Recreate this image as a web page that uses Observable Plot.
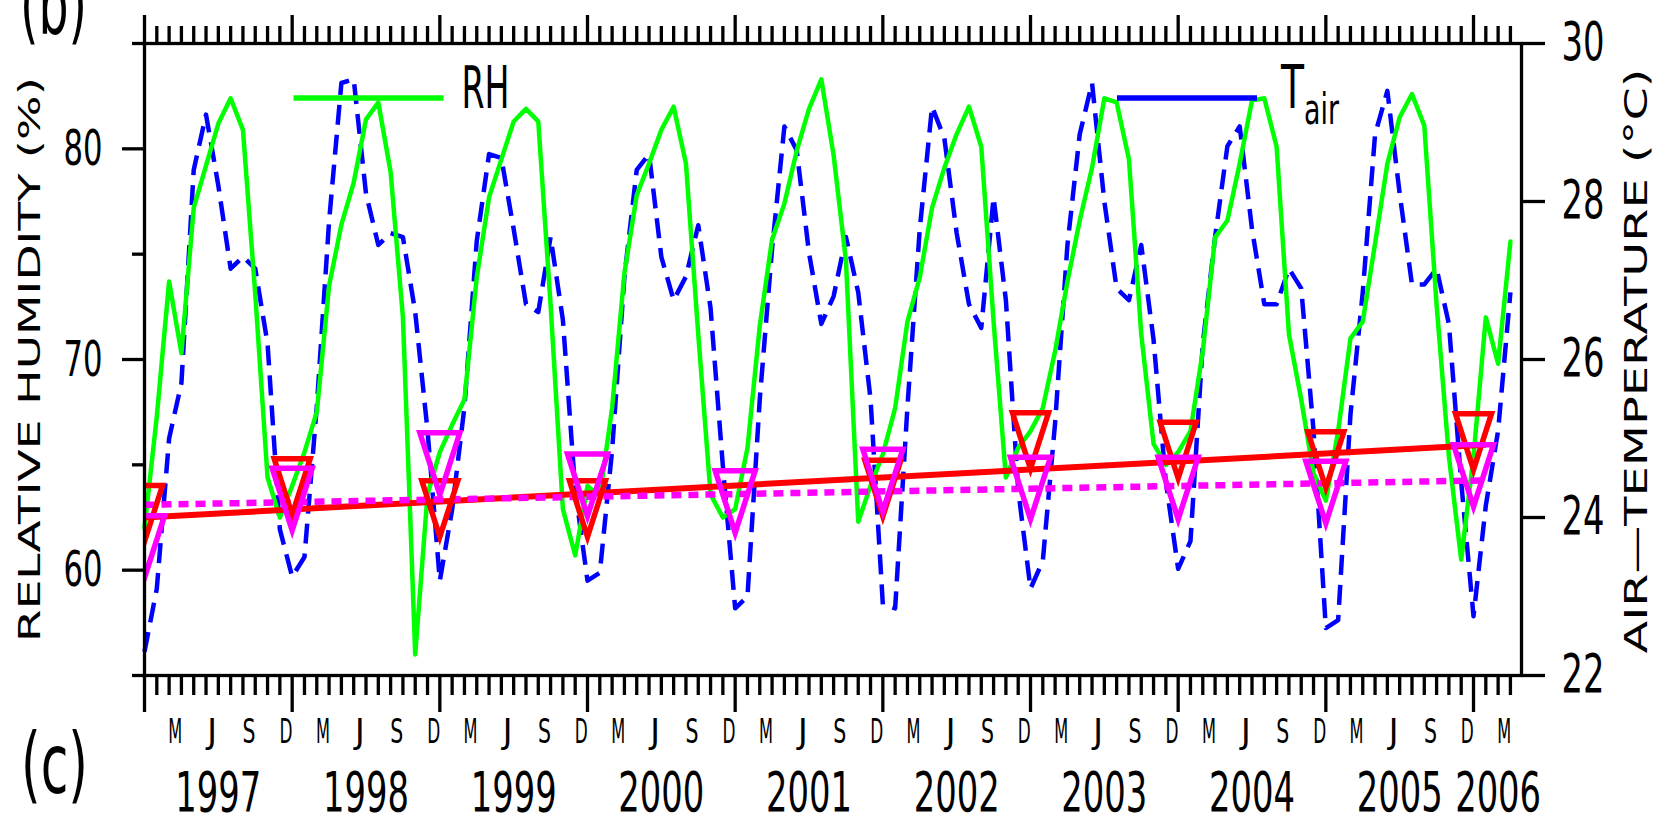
<!DOCTYPE html>
<html>
<head>
<meta charset="utf-8">
<script src="https://cdn.jsdelivr.net/npm/d3@7"></script>
<script src="https://cdn.jsdelivr.net/npm/@observablehq/plot@0.6"></script>
<style>
  html, body { margin: 0; padding: 0; background: #fff; }
  #chart svg { display: block; }
</style>
</head>
<body>
<div id="chart"></div>
<script>
// ---------- DATA (months since Jan 1997) ----------
const monthIndex = Array.from({length: 112}, (_, i) => i);

const rhValues = [
  62.0,67.3,73.7,70.3,77.2,79.2,81.2,82.4,80.9,73.1,64.4,62.5,
  64.0,65.6,67.5,73.5,76.4,78.4,81.4,82.2,78.9,72.0,56.0,63.6,
  65.6,66.9,68.1,73.9,77.7,79.5,81.3,81.9,81.3,72.6,62.9,60.7,
  64.0,63.5,67.7,74.1,77.8,79.3,80.9,82.0,79.3,71.2,63.6,62.5,
  62.9,65.8,71.6,75.7,77.4,79.9,81.9,83.3,79.7,74.7,62.3,64.0,
  65.5,67.7,71.8,73.9,77.2,79.1,80.7,82.0,80.1,71.8,64.4,65.8,
  66.6,67.7,70.4,73.7,76.6,79.1,82.4,82.2,79.5,71.2,66.0,65.0,
  65.6,66.6,70.4,75.8,76.6,79.3,82.3,82.4,80.1,71.2,68.1,64.6,
  63.3,66.6,71.0,71.8,75.5,79.3,81.5,82.6,81.1,72.6,65.4,60.5,
  65.4,72.0,69.8,75.6
];

const tairValues = [
  22.3,23.1,25.0,25.7,28.4,29.1,28.2,27.15,27.3,27.15,26.2,23.85,
  23.25,23.5,25.4,27.75,29.5,29.55,28.1,27.45,27.6,27.55,26.6,25.1,
  23.2,24.1,25.4,27.5,28.6,28.55,27.65,26.7,26.6,27.55,26.5,24.35,
  23.2,23.3,24.85,27.05,28.4,28.6,27.3,26.75,27.05,27.7,26.65,24.65,
  22.85,23.0,25.5,27.4,28.95,28.65,27.35,26.45,26.8,27.55,26.85,25.5,
  22.9,22.85,25.4,27.65,29.2,28.8,27.6,26.7,26.4,28.05,26.75,24.35,
  23.1,23.45,25.2,27.45,28.85,29.5,28.0,26.9,26.75,27.45,26.25,24.45,
  23.35,23.7,26.2,27.55,28.7,28.95,27.65,26.7,26.7,27.15,26.9,25.1,
  22.6,22.7,25.3,26.85,28.85,29.4,28.1,26.95,26.95,27.15,26.45,24.45,
  22.75,24.15,25.1,26.85
];

// straight trend lines (°C)
const redTrendMonths = [0, 109];
const redTrendT = [24.0, 24.92];
const magentaTrendMonths = [0, 109];
const magentaTrendT = [24.16, 24.47];

// triangle markers (°C)
const redTriMonths = [0, 12, 24, 36, 60, 72, 84, 96, 108];
const redTriT = [24.05, 24.39, 24.11, 24.11, 24.37, 24.97, 24.85, 24.73, 24.96];
const magentaTriMonths = [0, 12, 24, 36, 48, 60, 72, 84, 96, 108];
const magentaTriT = [23.63, 24.23, 24.68, 24.41, 24.20, 24.47, 24.37, 24.37, 24.32, 24.53];

// axis ticks & labels
const rhMajorTicks = [60, 70, 80];
const rhMinorTicks = [55, 65, 75, 85];
const tairTicks = [22, 24, 26, 28, 30];
const yearLabels = ["1997","1998","1999","2000","2001","2002","2003","2004","2005","2006"];
const yearLabelMonths = [6, 18, 30, 42, 54, 66, 78, 90, 102, 110];
const monthLetters = ["M", "J", "S", "D"];
const monthLetterOffsets = [2, 5, 8, 11];

// ---------- DERIVED TABLES ----------
const tToRh = t => 55 + (t - 22) * 30 / 8;
const rhToT = v => 22 + (v - 55) * 8 / 30;
const xMax = 111.9;

const rhSeries = monthIndex.map((m, i) => ({m, v: rhValues[i]}));
const tairSeries = monthIndex.map((m, i) => ({m, v: tToRh(tairValues[i])}));
const redTrend = redTrendMonths.map((m, i) => ({m, v: tToRh(redTrendT[i])}));
const magentaTrend = magentaTrendMonths.map((m, i) => ({m, v: tToRh(magentaTrendT[i])}));
const redTri = redTriMonths.map((m, i) => ({m, v: tToRh(redTriT[i])}));
const magentaTri = magentaTriMonths.map((m, i) => ({m, v: tToRh(magentaTriT[i])}));

const monthTicks = monthIndex.filter(m => m % 12 !== 0);
const yearTicks = monthIndex.filter(m => m % 12 === 0);
const monthLabelData = [];
yearLabels.forEach((_, y) => monthLetterOffsets.forEach((k, j) => {
  const m = y * 12 + k + 0.5;
  if (m <= xMax) monthLabelData.push({m, text: monthLetters[j]});
}));
const yearLabelData = yearLabels.map((text, i) => ({m: yearLabelMonths[i], text}));

// ---------- SYMBOLS ----------
const invTriangle = (w, h) => ({
  draw(ctx) { ctx.moveTo(-w / 2, -h / 2); ctx.lineTo(w / 2, -h / 2); ctx.lineTo(0, h / 2); ctx.closePath(); }
});
const hLine = len => ({
  draw(ctx) { ctx.moveTo(-len / 2, 0); ctx.lineTo(len / 2, 0); }
});

const AX = 3.3;
const black = "black";

const chart = Plot.plot({
  width: 1665,
  height: 814,
  marginLeft: 144,
  marginRight: 144,
  marginTop: 43,
  marginBottom: 139,
  x: {domain: [0, xMax], axis: null},
  y: {domain: [55, 85], axis: null},
  style: {fontFamily: "DejaVu Sans", background: "white", color: "black"},
  marks: [
    // data
    Plot.line(tairSeries, {x: "m", y: "v", stroke: "#0000ff", strokeWidth: 4.5, strokeDasharray: "20,10", strokeLinecap: "butt", strokeLinejoin: "round"}),
    Plot.line(rhSeries, {x: "m", y: "v", stroke: "#00ff00", strokeWidth: 4.5, strokeLinejoin: "round"}),
    Plot.line(redTrend, {x: "m", y: "v", stroke: "#ff0000", strokeWidth: 6, strokeLinecap: "butt"}),
    Plot.line(magentaTrend, {x: "m", y: "v", stroke: "#ff00ff", strokeWidth: 6.5, strokeDasharray: "10,7", strokeLinecap: "butt"}),
    Plot.dot(redTri, {x: "m", y: "v", symbol: invTriangle(36, 56), fill: "none", stroke: "#ff0000", strokeWidth: 5.5, strokeLinejoin: "miter", clip: true}),
    Plot.dot(magentaTri, {x: "m", y: "v", symbol: invTriangle(40, 62), fill: "none", stroke: "#ff00ff", strokeWidth: 5.5, strokeLinejoin: "miter", clip: true}),

    // legend
    Plot.dot([0], {frameAnchor: "top-left", dx: 224, dy: 54.5, symbol: hLine(150), fill: "none", stroke: "#00ff00", strokeWidth: 5.5, strokeLinecap: "butt"}),
    Plot.text(["RH"], {frameAnchor: "top-left", dx: 317, dy: 64, textAnchor: "start", lineAnchor: "bottom", fontSize: 59, fill: black}),
    Plot.dot([0], {frameAnchor: "top-left", dx: 1042.5, dy: 54.5, symbol: hLine(140), fill: "none", stroke: "#0000ff", strokeWidth: 5.5, strokeLinecap: "butt"}),
    Plot.text(["T"], {frameAnchor: "top-left", dx: 1148, dy: 64, textAnchor: "middle", lineAnchor: "bottom", fontSize: 60, fill: black}),
    Plot.text(["air"], {frameAnchor: "top-left", dx: 1177, dy: 80, textAnchor: "middle", lineAnchor: "bottom", fontSize: 42, fill: black}),

    // frame
    Plot.frame({stroke: black, strokeWidth: AX}),

    // bottom / top time axes
    Plot.axisX(monthTicks, {anchor: "bottom", tickSize: 20, strokeWidth: AX, fill: "none", label: null}),
    Plot.axisX(yearTicks, {anchor: "bottom", tickSize: 37, strokeWidth: AX, fill: "none", label: null}),
    Plot.axisX(monthTicks, {anchor: "top", tickSize: 18, strokeWidth: AX, fill: "none", label: null}),
    Plot.axisX(yearTicks, {anchor: "top", tickSize: 29, strokeWidth: AX, fill: "none", label: null}),
    Plot.text(monthLabelData, {x: "m", text: "text", frameAnchor: "bottom", lineAnchor: "bottom", dy: 67, fontSize: 33, fill: black}),
    Plot.text(yearLabelData, {x: "m", text: "text", frameAnchor: "bottom", lineAnchor: "bottom", dy: 135, fontSize: 55, fill: black}),

    // left RH axis
    Plot.axisY(rhMinorTicks, {anchor: "left", tickSize: 12, strokeWidth: AX, fill: "none", label: null}),
    Plot.axisY(rhMajorTicks, {anchor: "left", tickSize: 22, tickPadding: 20, strokeWidth: AX, fontSize: 50, label: null, tickFormat: d => String(d)}),

    // right air temperature axis
    Plot.axisY(tairTicks.map(tToRh), {anchor: "right", tickSize: 23, tickPadding: 17, strokeWidth: AX, fontSize: 53, label: null, tickFormat: d => String(Math.round(rhToT(d)))}),

    // axis titles
    Plot.text(["RELATIVE HUMIDITY (%)"], {frameAnchor: "left", dx: -104.5, rotate: -90, textAnchor: "middle", lineAnchor: "bottom", fontSize: 29.5, fill: black}),
    Plot.text(["AIR\u2014TEMPERATURE (\u00B0C)"], {frameAnchor: "right", dx: 125, dy: 1.5, rotate: -90, textAnchor: "middle", lineAnchor: "bottom", fontSize: 31.5, fill: black}),

    // panel labels
    Plot.text(["(c)"], {frameAnchor: "bottom-left", dx: -90, dy: 117, textAnchor: "middle", lineAnchor: "bottom", fontSize: 84, fill: black}),
    Plot.text(["(b)"], {frameAnchor: "top-left", dx: -91, dy: -10, textAnchor: "middle", lineAnchor: "bottom", fontSize: 84, fill: black})
  ]
});

document.getElementById("chart").appendChild(chart);

// condensed / widened lettering: fit each label to the width measured on the reference
const exactWidths = {
  "RELATIVE HUMIDITY (%)": 565, "AIR\u2014TEMPERATURE (\u00B0C)": 585
};
const maxWidths = {
  "RH": 48, "T": 23, "air": 35, "(c)": 67, "(b)": 67,
  "M": 14, "S": 13, "D": 13
};
chart.querySelectorAll("text").forEach(t => {
  const s = t.textContent;
  let len = exactWidths[s];
  let force = len != null;
  if (len == null) {
    len = maxWidths[s];
    if (len == null) {
      if (/^\d{4}$/.test(s)) len = 86;
      else if (["60", "70", "80"].includes(s)) len = 39;
      else if (["22", "24", "26", "28", "30"].includes(s)) len = 43;
    }
  }
  if (len != null && (force || t.getComputedTextLength() > len)) {
    t.setAttribute("textLength", len);
    t.setAttribute("lengthAdjust", "spacingAndGlyphs");
  }
});
</script>
</body>
</html>
